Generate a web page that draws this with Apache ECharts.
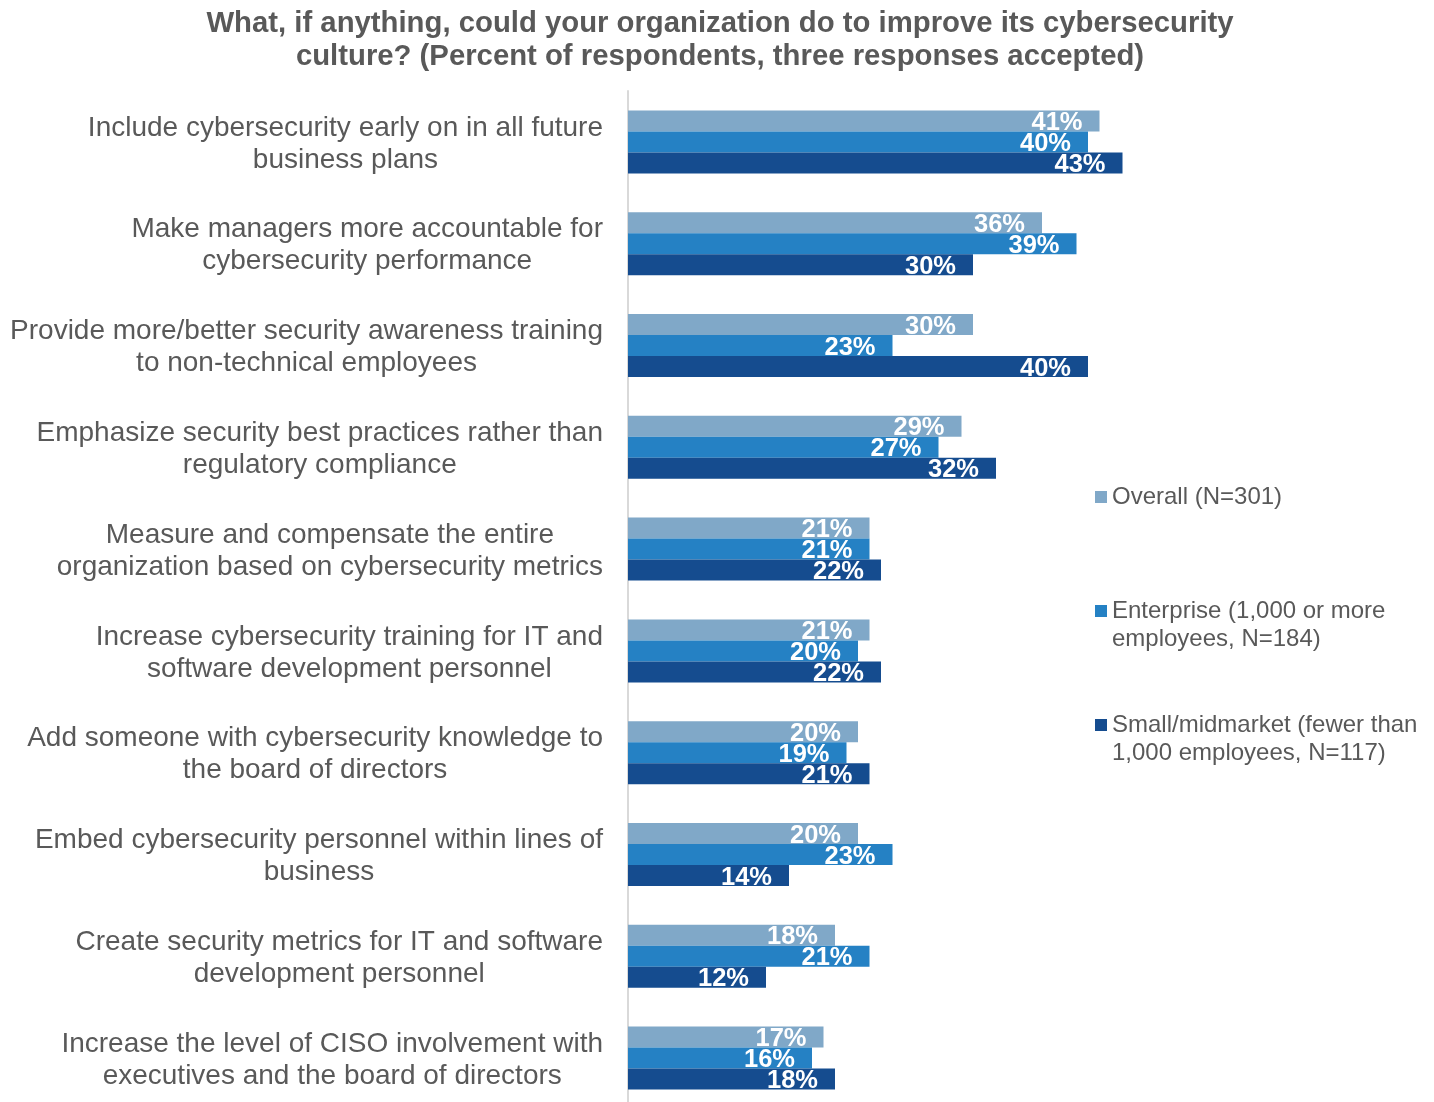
<!DOCTYPE html>
<html>
<head>
<meta charset="utf-8">
<script src="https://cdn.jsdelivr.net/npm/echarts@6/dist/echarts.min.js"></script>
<style>
  html, body { margin: 0; padding: 0; background: #ffffff; }
  #chart { width: 1434px; height: 1102px; }
</style>
</head>
<body>
<div id="chart"></div>
<script>
// Survey answers, top to bottom
const categories = [
  'Include cybersecurity early on in all future\nbusiness plans',
  'Make managers more accountable for\ncybersecurity performance',
  'Provide more/better security awareness training\nto non-technical employees',
  'Emphasize security best practices rather than\nregulatory compliance',
  'Measure and compensate the entire\norganization based on cybersecurity metrics',
  'Increase cybersecurity training for IT and\nsoftware development personnel',
  'Add someone with cybersecurity knowledge to\nthe board of directors',
  'Embed cybersecurity personnel within lines of\nbusiness',
  'Create security metrics for IT and software\ndevelopment personnel',
  'Increase the level of CISO involvement with\nexecutives and the board of directors'
];

const seriesNames = [
  'Overall (N=301)',
  'Enterprise (1,000 or more employees, N=184)',
  'Small/midmarket (fewer than 1,000 employees, N=117)'
];
const legendLabels = [
  'Overall (N=301)',
  'Enterprise (1,000 or more\nemployees, N=184)',
  'Small/midmarket (fewer than\n1,000 employees, N=117)'
];

// Percent of respondents
const overall    = [41, 36, 30, 29, 21, 21, 20, 20, 18, 17];
const enterprise = [40, 39, 23, 27, 21, 20, 19, 23, 21, 16];
const smallMid   = [43, 30, 40, 32, 22, 22, 21, 14, 12, 18];

const seriesValues = [overall, enterprise, smallMid];
const colors = ['#80A8C8', '#2581C4', '#154C8F'];

const FONT = '"Liberation Sans", Arial, Helvetica, sans-serif';
const GRAY = '#595959';

const chart = echarts.init(document.getElementById('chart'), null, { renderer: 'canvas' });

// One legend block per series so each can sit at its own height.
// Wrapped entries get a leading blank line so the marker lines up with the first line.
const legendTops = [483, 569, 683];
const legends = seriesNames.map((name, i) => {
  const wrapped = legendLabels[i].indexOf('\n') >= 0;
  return {
    data: [name],
    left: 1095,
    top: legendTops[i],
    orient: 'vertical',
    padding: 0,
    icon: 'rect',
    itemWidth: 12,
    itemHeight: 12,
    selectedMode: false,
    formatter: () => (wrapped ? '\n' : '') + legendLabels[i],
    textStyle: {
      fontFamily: FONT,
      fontSize: 24,
      color: GRAY,
      lineHeight: 28
    }
  };
});

const option = {
  backgroundColor: '#ffffff',
  animation: false,
  title: {
    text: 'What, if anything, could your organization do to improve its cybersecurity\nculture? (Percent of respondents, three responses accepted)',
    left: 720,
    textAlign: 'center',
    top: 7,
    padding: 0,
    textStyle: {
      fontFamily: FONT,
      fontSize: 29.3,
      fontWeight: 'bold',
      color: GRAY,
      lineHeight: 33
    }
  },
  legend: legends,
  grid: {
    left: 628,
    right: 231,
    top: 91,
    height: 1018,
    containLabel: false,
    outerBoundsMode: 'none'
  },
  xAxis: {
    type: 'value',
    min: 0,
    max: 50,
    show: false,
    splitLine: { show: false }
  },
  yAxis: {
    type: 'category',
    inverse: true,
    data: categories,
    axisTick: { show: false },
    axisLine: { show: true, lineStyle: { color: '#D9D9D9', width: 2 } },
    axisLabel: {
      margin: 25,
      padding: [4, 0, 0, 0],
      formatter: (value) => value.split('\n').map(line => '{c|' + line + '}').join('\n'),
      rich: {
        c: {
          align: 'center',
          fontFamily: FONT,
          fontSize: 28,
          lineHeight: 32,
          color: GRAY
        }
      }
    }
  },
  series: seriesNames.map((name, i) => ({
    name: name,
    type: 'bar',
    data: seriesValues[i],
    barWidth: 21,
    barGap: '0%',
    itemStyle: { color: colors[i] },
    label: {
      show: true,
      position: 'insideRight',
      distance: 17,
      offset: [0, 2],
      formatter: '{c}%',
      color: '#ffffff',
      fontFamily: FONT,
      fontSize: 25.5,
      fontWeight: 'bold'
    }
  }))
};

chart.setOption(option);
</script>
</body>
</html>
